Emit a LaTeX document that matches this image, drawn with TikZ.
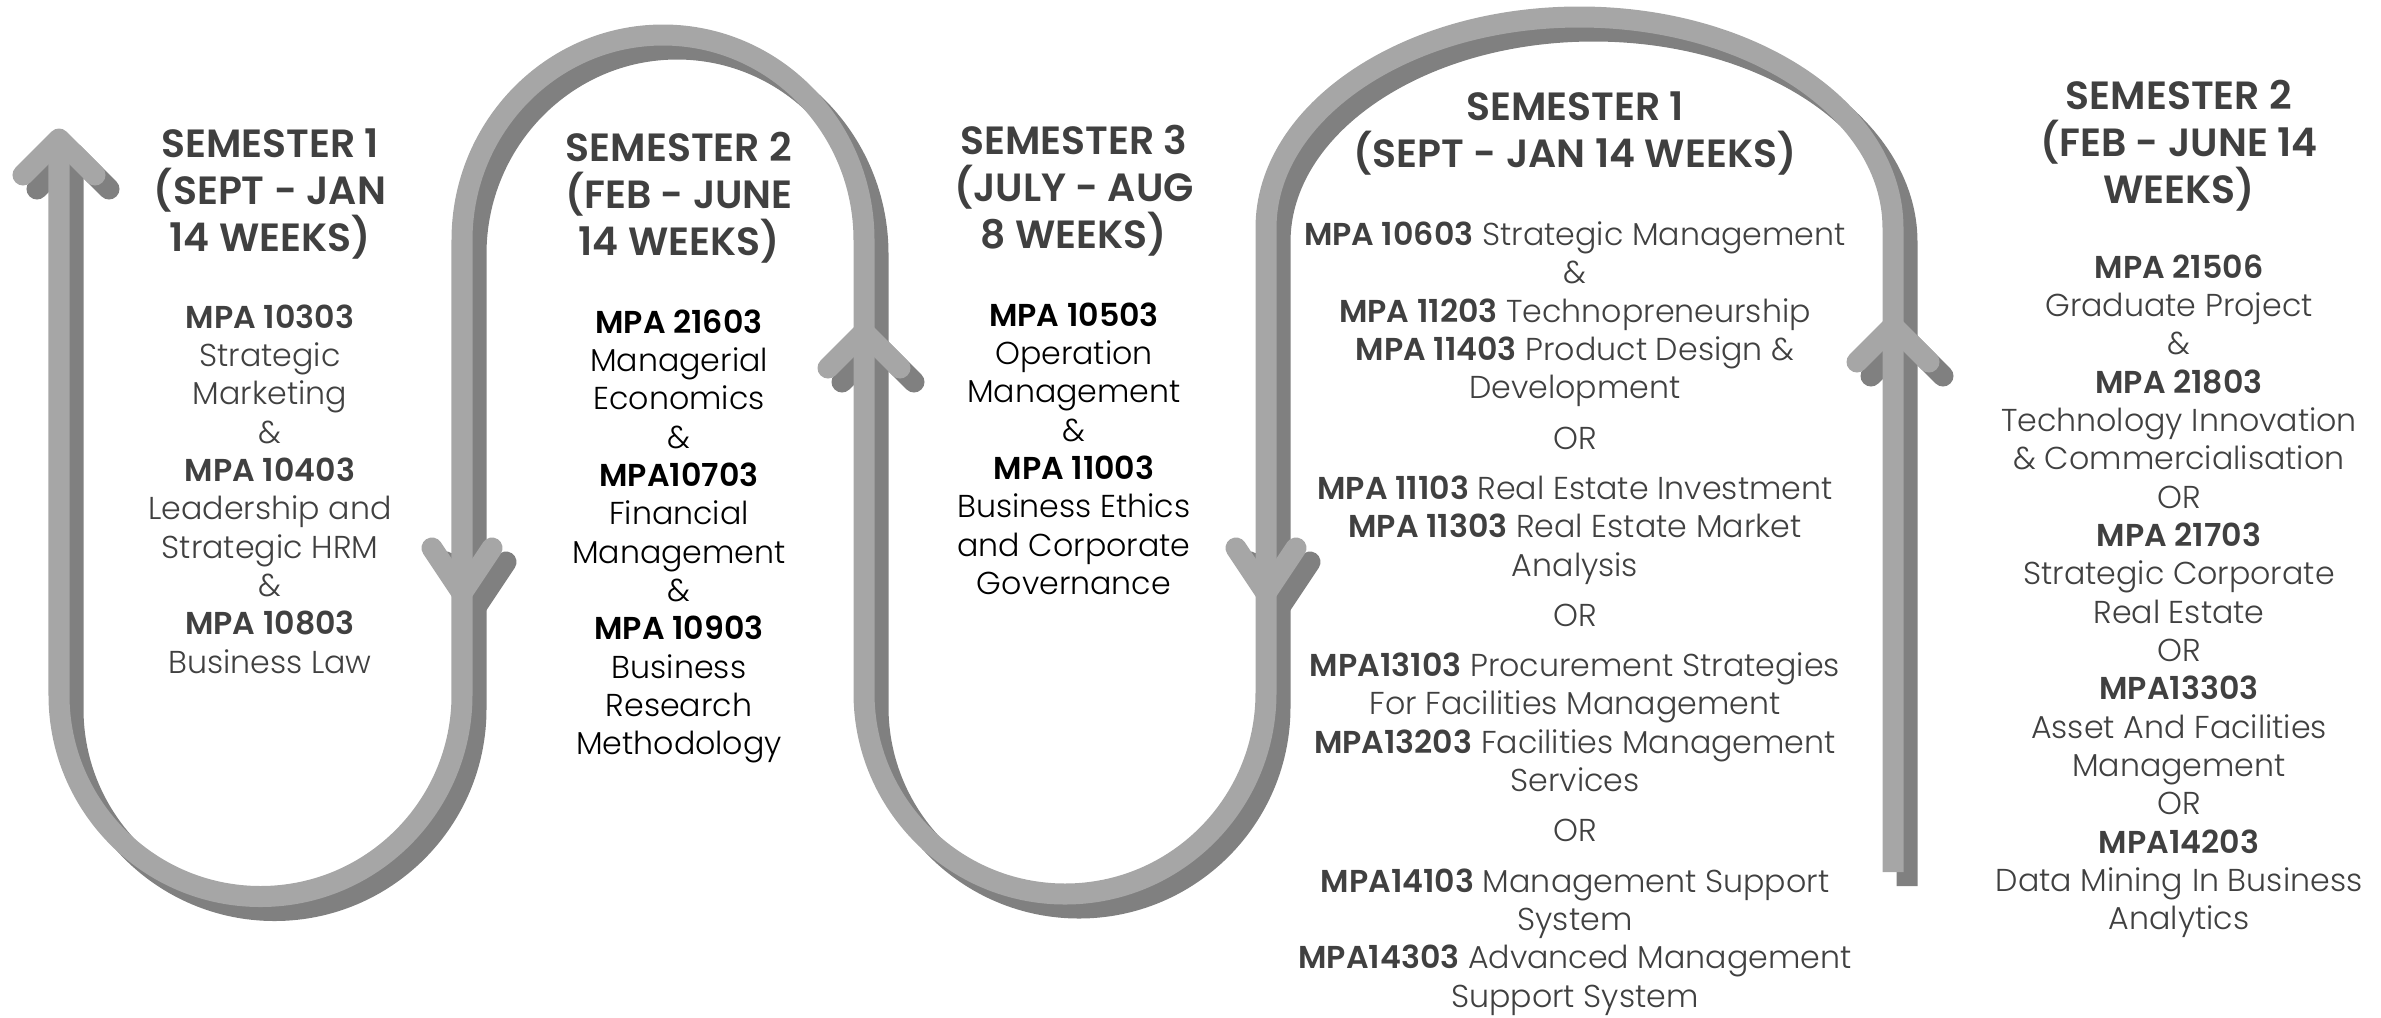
\documentclass[tikz,border=0pt]{standalone}
\usepackage{fontspec}
\setmainfont{Poppins}[UprightFont={* Light},BoldFont={* SemiBold}]
\usepackage{tikz}
\definecolor{bandlight}{HTML}{A6A6A6}
\definecolor{bandshade}{HTML}{808080}
\definecolor{inkgray}{HTML}{404040}
\newcommand{\headfont}{\fontsize{11.2}{13.4}\selectfont\bfseries}
\newcommand{\bodyfont}{\fontsize{9}{10.9}\selectfont}

\begin{document}
\begin{tikzpicture}[x=0.01cm, y=-0.01cm,
    semhead/.style={font=\headfont, text=inkgray, align=center, anchor=north, inner sep=0pt},
    courses/.style={font=\bodyfont, align=center, anchor=north, inner sep=0pt}]
  \useasboundingbox (0,0) rectangle (2381,1017);

  % the band, shade first and light on top
  \foreach \d/\col in {14/bandshade, 0/bandlight}{
    \begin{scope}[shift={(\d,\d)}, color=\col, line width=0.21cm]
      \draw (59,139) -- (59,695) arc[start angle=180, end angle=0, radius=201.5]
        -- (462,240) arc[start angle=180, end angle=360, x radius=201, y radius=205]
        -- (864,693) arc[start angle=180, end angle=0, radius=201]
        -- (1266,228) arc[start angle=180, end angle=360, x radius=313.5, y radius=211]
        -- (1893,872);
      % chevrons
      \foreach \x/\y/\u/\ay in {59/139/36/175, 462/593/30/548, 864/332/36/368,
                                 1266/593/30/548, 1893/326/36/362}
        \draw[line cap=round, line join=round] (\x-\u,\ay) -- (\x,\y) -- (\x+\u,\ay);
    \end{scope}
  }

  % semester 1
  \node[semhead] (semA) at (270,128) {SEMESTER 1\\(SEPT - JAN\\14 WEEKS)};
  \node[courses, text=inkgray] (listA) at (270,304) {\textbf{MPA 10303}\\Strategic\\Marketing\\\&\\
    \textbf{MPA 10403}\\Leadership and\\Strategic HRM\\\&\\\textbf{MPA 10803}\\Business Law};

  % semester 2
  \node[semhead] (semB) at (679,131) {SEMESTER 2\\(FEB - JUNE\\14 WEEKS)};
  \node[courses, text=black] (listB) at (679,309) {\textbf{MPA 21603}\\Managerial\\Economics\\\&\\
    \textbf{MPA10703}\\Financial\\Management\\\&\\\textbf{MPA 10903}\\Business\\Research\\Methodology};

  % semester 3
  \node[semhead] (semC) at (1074,124) {SEMESTER 3\\(JULY - AUG\\8 WEEKS)};
  \node[courses, text=black] (listC) at (1074,302) {\textbf{MPA 10503}\\Operation\\Management\\\&\\
    \textbf{MPA 11003}\\Business Ethics\\and Corporate\\Governance};

  % year 2, semester 1
  \node[semhead] (semD) at (1575,91) {SEMESTER 1\\(SEPT - JAN 14 WEEKS)};
  \node[courses, text=inkgray] (listD) at (1575,221) {\textbf{MPA 10603} Strategic Management\\\&\\
    \textbf{MPA 11203} Technopreneurship\\\textbf{MPA 11403} Product Design \&\\Development\\[3.4pt]
    OR\\[3.4pt]
    \textbf{MPA 11103} Real Estate Investment\\\textbf{MPA 11303} Real Estate Market\\Analysis\\[3.4pt]
    OR\\[3.4pt]
    \textbf{MPA13103} Procurement Strategies\\For Facilities Management\\
    \textbf{MPA13203} Facilities Management\\Services\\[3.4pt]
    OR\\[3.4pt]
    \textbf{MPA14103} Management Support\\System\\\textbf{MPA14303} Advanced Management\\Support System};

  % year 2, semester 2
  \node[semhead] (semE) at (2179,79) {SEMESTER 2\\(FEB - JUNE 14\\WEEKS)};
  \node[courses, text=inkgray] (listE) at (2179,254) {\textbf{MPA 21506}\\Graduate Project\\\&\\
    \textbf{MPA 21803}\\Technology Innovation\\\& Commercialisation\\OR\\\textbf{MPA 21703}\\
    Strategic Corporate\\Real Estate\\OR\\\textbf{MPA13303}\\Asset And Facilities\\Management\\OR\\
    \textbf{MPA14203}\\Data Mining In Business\\Analytics};
\end{tikzpicture}
\end{document}
